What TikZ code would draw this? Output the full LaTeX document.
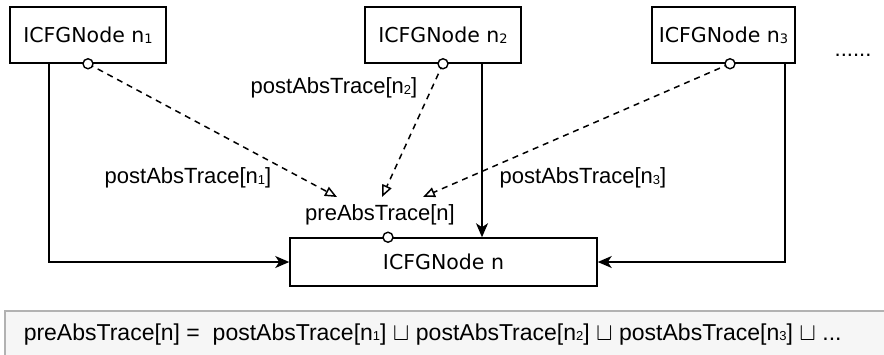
\documentclass[tikz,border=0pt]{standalone}
\usepackage{fontspec}
\setmainfont{Liberation Sans}
\newfontfamily\nodefont{DejaVu Sans}
\usetikzlibrary{arrows.meta,positioning}
\newcommand{\ix}[1]{\raisebox{-0.8pt}{\fontsize{13}{13}\selectfont #1}}
\begin{document}
\begin{tikzpicture}[x=1pt,y=-1pt,line width=1.5pt,
  icfg/.style={draw,inner sep=0pt,minimum height=56pt,font={\nodefont\fontsize{20.5}{21}\selectfont}},
  lbl/.style={inner sep=0pt,font={\fontsize{22}{22}\selectfont}},
  flow/.style={-{Stealth[length=14pt,width=12pt,inset=4pt]}},
  trace/.style={dash pattern=on 6pt off 5pt,-{Triangle[open,length=12pt,width=10pt]}},
  port/.style={draw,fill=white,line width=1.4pt}]
\useasboundingbox (0,0) rectangle (884,354);
\clip (0,0) rectangle (884,354);
\node[icfg,minimum width=156pt] (n1) at (88,35) {ICFGNode n\ix{1}};
\node[icfg,minimum width=156pt] (n2) at (443,35) {ICFGNode n\ix{2}};
\node[icfg,minimum width=143pt] (n3) at (723.5,35) {ICFGNode n\ix{3}};
\node[icfg,minimum width=307pt,minimum height=48pt] (nn) at (443.5,262) {ICFGNode n};
\node[lbl] (more) at (853,55) {......};
\node[lbl] (pre) at (380,215) {preAbsTrace[n]};
\node[lbl] (l1) at (188,178) {postAbsTrace[n\ix{1}]};
\node[lbl] (l2) at (334,88) {postAbsTrace[n\ix{2}]};
\node[lbl] (l3) at (583,178) {postAbsTrace[n\ix{3}]};
% ports and arrow ends
\coordinate (p1) at (n1.south);
\coordinate (p2) at (n2.south);
\coordinate (p3) at ([xshift=6.5pt]n3.south);
\coordinate (p0) at ([xshift=-55.5pt]nn.north);
\coordinate (t1) at (337,197);
\coordinate (t2) at (382,197);
\coordinate (t3) at (423,197);
\draw[trace] (p1) -- (t1);
\draw[trace] (p2) -- (t2);
\draw[trace] (p3) -- (t3);
\draw[flow] ([xshift=-39pt]n1.south) |- (nn.west);
\draw[flow] ([xshift=39pt]n2.south) -- ([xshift=39pt]n2.south |- nn.north);
\draw[flow] ([xshift=61.5pt]n3.south) |- (nn.east);
\foreach \p in {p1,p2,p3,p0} \draw[port] (\p) circle (5pt);
% join equation
\draw[draw=gray!60,fill=gray!7,line width=1.2pt] (5,311) rectangle (900,370);
\node[lbl,font={\fontsize{23}{23}\selectfont},anchor=base west] (eq) at (23,340)
  {preAbsTrace[n] = \ postAbsTrace[n\ix{1}] $\sqcup$ postAbsTrace[n\ix{2}] $\sqcup$ postAbsTrace[n\ix{3}] $\sqcup$ ...};
\end{tikzpicture}
\end{document}
